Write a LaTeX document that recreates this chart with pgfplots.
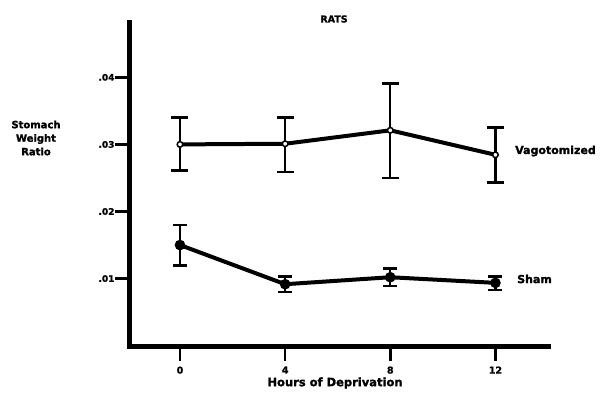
\documentclass[border=0pt]{standalone}
\usepackage{pgfplots}
\pgfplotsset{compat=1.18}
\usepackage{pgfplotstable}
\usepackage{fontspec}
\setmainfont{DejaVu Sans}[BoldFeatures={FakeBold=1.5}]
\pgfplotstableread{
x y ep em
0 0.0300 0.0040 0.0039
4 0.0301 0.0039 0.0042
8 0.0321 0.0070 0.0071
12 0.02845 0.00405 0.00415
}\vagdata
\pgfplotstableread{
x y ep em
0 0.0150 0.0030 0.0030
4 0.00916 0.00114 0.00116
8 0.0102 0.0013 0.0013
12 0.00936 0.00094 0.00106
}\shamdata
\begin{document}
\begin{tikzpicture}[x=1pt,y=1pt]
\path[use as bounding box] (-129,-46) rectangle (478,347);
\begin{axis}[
  at={(0,0)}, anchor=south west,
  scale only axis, width=419pt, height=324pt,
  xmin=-1.94, xmax=14.0, ymin=-0.0002, ymax=0.0481,
  scaled y ticks=false,
  axis x line=bottom, axis y line=left,
  axis line style={-, line width=5pt, line cap=rect},
  xtick={0,4,8,12}, xticklabels={0,4,8,12},
  ytick={0.01,0.02,0.03,0.04}, yticklabels={.01,.02,.03,.04},
  tick align=outside, major tick length=14pt,
  tick style={line width=2.5pt, black},
  xticklabel style={font=\bfseries\fontsize{9.5}{10}\selectfont, yshift=-2pt},
  yticklabel style={font=\bfseries\fontsize{9}{9}\selectfont, xshift=3pt},
  clip=false,
]
\addplot[black, line width=4pt, mark=*, mark size=2.8pt,
  mark options={fill=white, line width=1.5pt},
  error bars/.cd, y dir=both, y explicit,
  error bar style={line width=2.3pt, black},
  error mark options={rotate=90, mark size=8.5pt, line width=2.8pt, black}]
  table[x=x, y=y, y error plus=ep, y error minus=em]{\vagdata};
\addplot[black, line width=4pt, mark=*, mark size=3.2pt,
  mark options={fill=black},
  error bars/.cd, y dir=both, y explicit,
  error bar style={line width=2.3pt, black},
  error mark options={rotate=90, mark size=7pt, line width=2.8pt, black}]
  table[x=x, y=y, y error plus=ep, y error minus=em]{\shamdata};
\end{axis}
\node[font=\bfseries\fontsize{9.5}{10}\selectfont] at (205,328) {RATS};
\node[font=\bfseries\fontsize{10}{13.5}\selectfont, align=center] at (-93,209) {Stomach\\Weight\\Ratio};
\node[font=\bfseries\fontsize{11.5}{12}\selectfont] at (206,-36) {Hours of Deprivation};
\node[font=\bfseries\fontsize{11}{12}\selectfont, anchor=west, inner sep=0pt] at (386,196) {Vagotomized};
\node[font=\bfseries\fontsize{11}{12}\selectfont, anchor=west, inner sep=0pt] at (388,68) {Sham};
\end{tikzpicture}
\end{document}
